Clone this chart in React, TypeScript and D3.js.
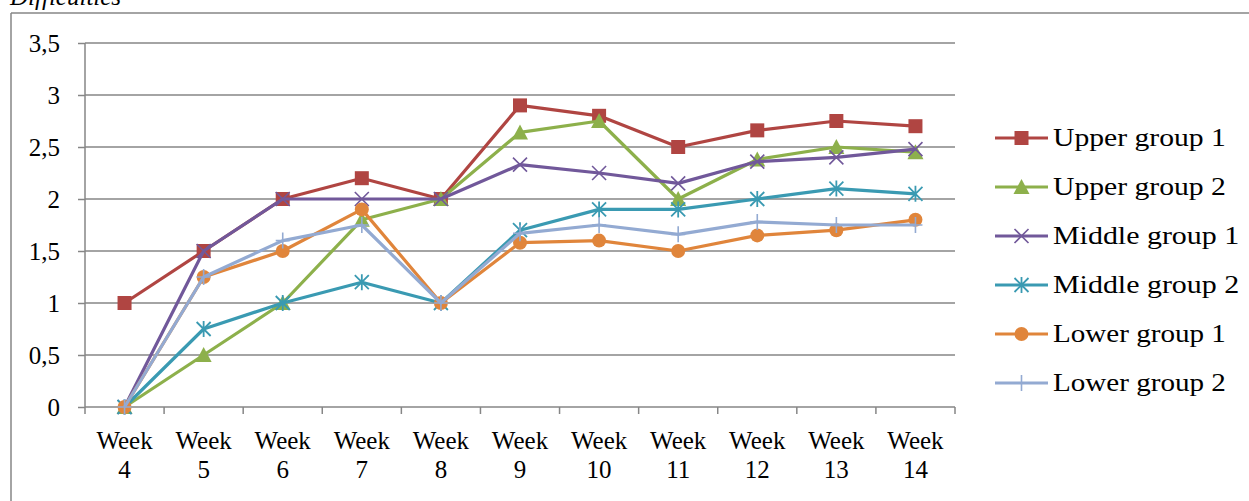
import { useEffect, useMemo, useRef } from 'react';
import * as d3 from 'd3';

const WIDTH = 1249;
const HEIGHT = 501;
const MARGIN = { top: 43, right: 294, bottom: 94, left: 85 };
const FONT = '"Liberation Serif", "Times New Roman", serif';

const weeks = ['4', '5', '6', '7', '8', '9', '10', '11', '12', '13', '14'];
const yTicks = [0, 0.5, 1, 1.5, 2, 2.5, 3, 3.5];

const seriesNames = ['Upper group 1', 'Upper group 2', 'Middle group 1', 'Middle group 2', 'Lower group 1', 'Lower group 2'];
const seriesColors = ['#B04542', '#8DB04B', '#71589A', '#3A9AB2', '#E0853B', '#93AAD2'];
const seriesMarkers = ['square', 'triangle', 'x', 'star', 'circle', 'plus'];

const upper1 = [1, 1.5, 2, 2.2, 2, 2.9, 2.8, 2.5, 2.66, 2.75, 2.7];
const upper2 = [0, 0.5, 1, 1.8, 2, 2.64, 2.75, 2.0, 2.38, 2.5, 2.45];
const middle1 = [0, 1.5, 2, 2, 2, 2.33, 2.25, 2.15, 2.36, 2.4, 2.48];
const middle2 = [0, 0.75, 1, 1.2, 1, 1.7, 1.9, 1.9, 2.0, 2.1, 2.05];
const lower1 = [0, 1.25, 1.5, 1.9, 1, 1.58, 1.6, 1.5, 1.65, 1.7, 1.8];
const lower2 = [0, 1.25, 1.6, 1.75, 1, 1.67, 1.75, 1.66, 1.78, 1.75, 1.75];

const seriesValues = [upper1, upper2, middle1, middle2, lower1, lower2];

const Marker = ({ type, x, y, color }: { type: string; x: number; y: number; color: string }) => {
  const s = 7;
  if (type === 'square') return <rect x={x - s} y={y - s} width={s * 2} height={s * 2} fill={color} />;
  if (type === 'circle') return <circle cx={x} cy={y} r={s} fill={color} />;
  if (type === 'triangle')
    return <path d={`M${x},${y - s - 1}L${x + s + 1},${y + s}L${x - s - 1},${y + s}Z`} fill={color} />;
  if (type === 'x')
    return <path d={`M${x - s},${y - s}L${x + s},${y + s}M${x - s},${y + s}L${x + s},${y - s}`} stroke={color} strokeWidth={1.6} />;
  if (type === 'star')
    return (
      <path
        d={`M${x - s},${y - s}L${x + s},${y + s}M${x - s},${y + s}L${x + s},${y - s}M${x},${y - s - 1}L${x},${y + s + 1}`}
        stroke={color}
        strokeWidth={1.8}
      />
    );
  return <path d={`M${x - s},${y}L${x + s},${y}M${x},${y - s - 1}L${x},${y + s + 1}`} stroke={color} strokeWidth={1.6} />;
};

export default function App() {
  const axesRef = useRef<SVGGElement>(null);

  const boundsWidth = WIDTH - MARGIN.left - MARGIN.right;
  const boundsHeight = HEIGHT - MARGIN.top - MARGIN.bottom;

  const xScale = useMemo(
    () => d3.scaleBand().domain(weeks).range([0, boundsWidth]),
    [boundsWidth]
  );
  const yScale = useMemo(
    () => d3.scaleLinear().domain([0, 3.5]).range([boundsHeight, 0]),
    [boundsHeight]
  );

  const cx = (i: number) => (xScale(weeks[i]) ?? 0) + xScale.bandwidth() / 2;

  const line = d3
    .line<number>()
    .x((_, i) => cx(i))
    .y((d) => yScale(d));

  useEffect(() => {
    const g = d3.select(axesRef.current);
    g.selectAll('*').remove();

    // gridlines + y axis
    const yAxis = g.append('g').call(
      d3
        .axisLeft(yScale)
        .tickValues(yTicks)
        .tickSize(7)
        .tickPadding(18)
        .tickFormat((d) => d3.format('')(d as number).replace('.', ','))
    );
    yAxis.select('.domain').remove();
    yAxis.selectAll('.tick line').attr('stroke', '#868686').attr('stroke-width', 1.5);
    yAxis.selectAll('.tick text').attr('font-family', FONT).attr('font-size', 25).attr('fill', '#000');

    g.append('g')
      .selectAll('line')
      .data(yTicks)
      .join('line')
      .attr('x1', 0)
      .attr('x2', boundsWidth)
      .attr('y1', (d) => yScale(d))
      .attr('y2', (d) => yScale(d))
      .attr('stroke', '#868686')
      .attr('stroke-width', 1.5);

    g.append('line')
      .attr('x1', 0)
      .attr('x2', 0)
      .attr('y1', 0)
      .attr('y2', boundsHeight)
      .attr('stroke', '#868686')
      .attr('stroke-width', 1.5);

    // x axis tick marks at category boundaries
    const bounds = weeks.map((w) => xScale(w) ?? 0).concat([boundsWidth]);
    g.append('g')
      .selectAll('line')
      .data(bounds)
      .join('line')
      .attr('x1', (d) => d)
      .attr('x2', (d) => d)
      .attr('y1', boundsHeight)
      .attr('y2', boundsHeight + 7)
      .attr('stroke', '#868686')
      .attr('stroke-width', 1.5);

    const labels = g
      .append('g')
      .selectAll('text')
      .data(weeks)
      .join('text')
      .attr('x', (d) => (xScale(d) ?? 0) + xScale.bandwidth() / 2)
      .attr('y', boundsHeight + 42)
      .attr('text-anchor', 'middle')
      .attr('font-family', FONT)
      .attr('font-size', 25)
      .attr('fill', '#000');
    labels.append('tspan').text('Week');
    labels
      .append('tspan')
      .attr('x', (d) => (xScale(d) ?? 0) + xScale.bandwidth() / 2)
      .attr('dy', 29)
      .text((d) => d);
  }, [xScale, yScale, boundsWidth, boundsHeight]);

  return (
    <div style={{ position: 'absolute', left: 0, top: 0 }}>
      <svg width={WIDTH} height={HEIGHT} style={{ display: 'block', background: '#fff' }}>
        <text x={10} y={5} fontFamily={FONT} fontStyle="italic" fontSize={25} fill="#000">
          Difficulties
        </text>
        {/* chart frame */}
        <line x1={11} x2={WIDTH} y1={13} y2={13} stroke="#868686" strokeWidth={1.5} />
        <line x1={11} x2={11} y1={13} y2={HEIGHT} stroke="#868686" strokeWidth={1.5} />

        <g ref={axesRef} transform={`translate(${MARGIN.left}, ${MARGIN.top})`} />

        <g transform={`translate(${MARGIN.left}, ${MARGIN.top})`}>
          {seriesValues.map((vals, si) => (
            <g key={seriesNames[si]}>
              <path d={line(vals) ?? ''} fill="none" stroke={seriesColors[si]} strokeWidth={3.2} strokeLinejoin="round" />
              {vals.map((v, i) => (
                <Marker key={i} type={seriesMarkers[si]} x={cx(i)} y={yScale(v)} color={seriesColors[si]} />
              ))}
            </g>
          ))}
        </g>

        {/* legend */}
        <g transform="translate(995, 138)">
          {seriesNames.map((name, i) => (
            <g key={name} transform={`translate(0, ${i * 49})`}>
              <line x1={0} x2={53} y1={0} y2={0} stroke={seriesColors[i]} strokeWidth={3.2} />
              <Marker type={seriesMarkers[i]} x={26.5} y={0} color={seriesColors[i]} />
              <text x={58} y={8} fontFamily={FONT} fontSize={25} fill="#000" textLength={name.length * 13.3} lengthAdjust="spacingAndGlyphs">
                {name}
              </text>
            </g>
          ))}
        </g>
      </svg>
    </div>
  );
}
